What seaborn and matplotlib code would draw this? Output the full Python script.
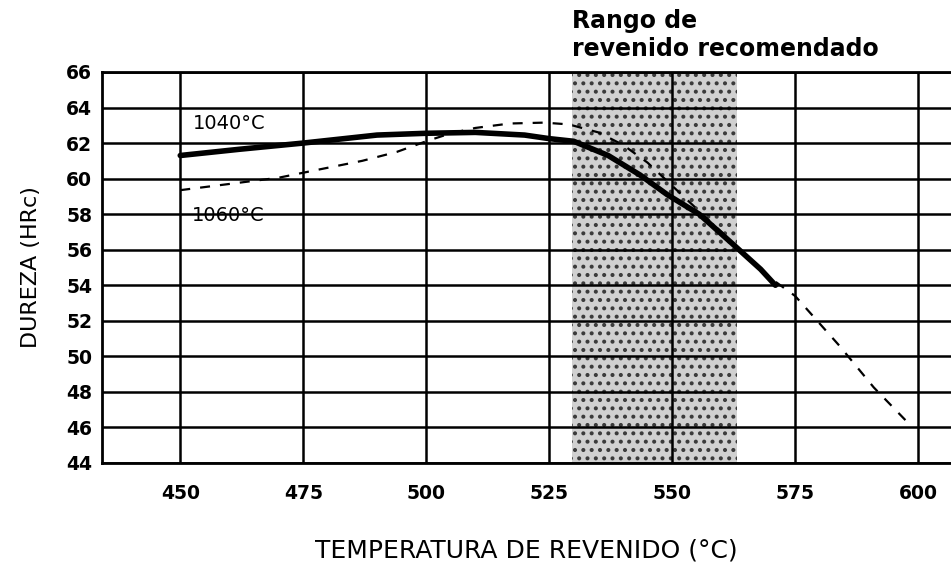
import matplotlib
matplotlib.use("Agg")
import matplotlib.pyplot as plt
import seaborn as sns
import pandas as pd

# Curva templado a 1040°C (línea continua)
temp_1040 = [450, 462, 475, 490, 500, 510, 520, 525, 530, 537, 543.5, 549, 555.5, 562, 568, 571]
dureza_1040 = [61.3, 61.65, 62.0, 62.45, 62.55, 62.6, 62.45, 62.25, 62.1, 61.3, 60.2, 59.1, 58.0, 56.4, 54.9, 54.0]

# Curva templado a 1060°C (línea discontinua)
temp_1060 = [450, 460, 470, 478, 487, 494, 500, 505, 510, 517, 524, 529, 535, 540, 545, 550,
             555, 560, 565, 571, 575, 584, 591, 598]
dureza_1060 = [59.35, 59.7, 60.05, 60.5, 61.0, 61.5, 62.1, 62.55, 62.85, 63.1, 63.15, 63.05, 62.6,
               61.9, 60.9, 59.6, 58.3, 57.0, 55.6, 54.2, 53.4, 50.6, 48.25, 46.25]

rango_recomendado = (529.6, 563.2)

x_ticks = [450, 475, 500, 525, 550, 575, 600]
y_ticks = list(range(44, 67, 2))


def grafico_revenido():
    sns.set_style("white")
    plt.rcParams["font.family"] = ["DejaVu Sans"]
    plt.rcParams["hatch.linewidth"] = 1.7
    for key in ["text.color", "axes.labelcolor", "xtick.color", "ytick.color"]:
        plt.rcParams[key] = "black"

    df_1040 = pd.DataFrame({"temp": temp_1040, "dureza": dureza_1040})
    df_1060 = pd.DataFrame({"temp": temp_1060, "dureza": dureza_1060})

    fig = plt.figure(figsize=(9.51, 5.64), dpi=100)
    ax = fig.add_axes([0.1073, 0.1791, 0.8927, 0.6933])

    ax.axvspan(*rango_recomendado, facecolor="#d0d0d0", edgecolor="#3a3a3a",
               hatch="..", linewidth=0, zorder=0)

    sns.lineplot(data=df_1040, x="temp", y="dureza", color="black", linewidth=4.0,
                 ax=ax, zorder=4)
    sns.lineplot(data=df_1060, x="temp", y="dureza", color="black", linewidth=1.6,
                 ax=ax, zorder=4)
    ax.lines[0].set_solid_joinstyle("round")
    ax.lines[-1].set_dashes((4.5, 4.5))

    ax.set_xlim(434.1, 606.7)
    ax.set_ylim(44, 66)
    ax.set_xticks(x_ticks)
    ax.set_yticks(y_ticks)
    ax.grid(True, color="black", linewidth=1.8, zorder=1)
    ax.set_axisbelow(False)

    for side in ["left", "bottom", "top"]:
        ax.spines[side].set_color("black")
        ax.spines[side].set_linewidth(2)
    ax.spines["right"].set_visible(False)

    ax.tick_params(axis="both", length=0, labelsize=13.5)
    ax.tick_params(axis="x", pad=15)
    ax.tick_params(axis="y", pad=7)
    for lab in ax.get_xticklabels() + ax.get_yticklabels():
        lab.set_fontweight("bold")

    ax.set_xlabel("TEMPERATURA DE REVENIDO (°C)", fontsize=18, labelpad=26)
    ax.set_ylabel("DUREZA (HRc)", fontsize=16, labelpad=18)

    ax.text(452.6, 63.08, "1040°C", fontsize=14, va="center", ha="left", zorder=5)
    ax.text(452.4, 57.9, "1060°C", fontsize=14, va="center", ha="left", zorder=5)

    ax.text(529.6, 1.16, "Rango de\nrevenido recomendado", fontsize=17, fontweight="bold",
            ha="left", va="top", transform=ax.get_xaxis_transform(), clip_on=False)

    fig.savefig("out.png", dpi=100)


if __name__ == "__main__":
    grafico_revenido()
